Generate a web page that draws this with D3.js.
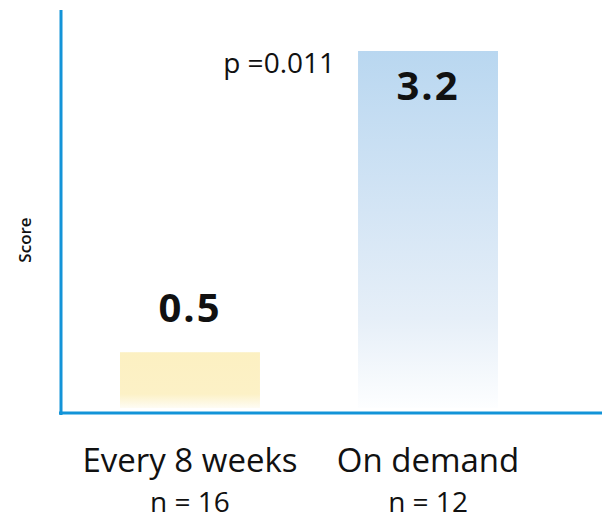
<!DOCTYPE html>
<html>
<head>
<meta charset="utf-8">
<script src="https://cdnjs.cloudflare.com/ajax/libs/d3/7.8.5/d3.min.js"></script>
<style>
  body { margin: 0; background: #fff; }
  svg text { font-family: "Open Sans", sans-serif; fill: #111; }
</style>
</head>
<body>
<svg id="chart" width="602" height="519"></svg>
<script>
var categories = ["Every 8 weeks", "On demand"];
var sampleSizes = ["n = 16", "n = 12"];
var scores = [0.5, 3.2];
var pLabel = "p =0.011";
var yLabel = "Score";

var svg = d3.select("#chart");

var x = d3.scaleBand()
	.domain(categories)
	.range([120, 498])
	.paddingInner(0.412)
	.paddingOuter(0);

var y = d3.scaleLinear()
	.domain([0, 3.2])
	.range([408, 51]);

// gradients for the two bars
var defs = svg.append("defs");
var gYellow = defs.append("linearGradient")
	.attr("id", "grad0")
	.attr("x1", 0).attr("y1", 0).attr("x2", 0).attr("y2", 1);
gYellow.append("stop").attr("offset", "0%").attr("stop-color", "#fcf0c2");
gYellow.append("stop").attr("offset", "75%").attr("stop-color", "#fcf1c6");
gYellow.append("stop").attr("offset", "100%").attr("stop-color", "#fefcf4");

var gBlue = defs.append("linearGradient")
	.attr("id", "grad1")
	.attr("x1", 0).attr("y1", 0).attr("x2", 0).attr("y2", 1);
gBlue.append("stop").attr("offset", "0%").attr("stop-color", "#b9d7f0");
gBlue.append("stop").attr("offset", "45%").attr("stop-color", "#d4e5f5");
gBlue.append("stop").attr("offset", "75%").attr("stop-color", "#e6eff8");
gBlue.append("stop").attr("offset", "100%").attr("stop-color", "#fdfeff");

// bars
svg.selectAll("rect.bar")
	.data(scores)
	.enter().append("rect")
	.attr("class", "bar")
	.attr("x", function(d, i) {return x(categories[i])})
	.attr("y", function(d) {return y(d)})
	.attr("width", x.bandwidth())
	.attr("height", function(d) {return y(0) - y(d)})
	.style("fill", function(d, i) {return "url(#grad" + i + ")"});

// value labels (inside the tall bar, above the short one)
svg.selectAll("text.value")
	.data(scores)
	.enter().append("text")
	.attr("class", "value")
	.attr("x", function(d, i) {return x(categories[i]) + x.bandwidth() / 2})
	.attr("y", function(d, i) {return i === 1 ? y(d) + 49 : y(d) - 30})
	.attr("text-anchor", "middle")
	.style("font-size", "40px")
	.style("font-weight", "bold")
	.style("letter-spacing", "2px")
	.text(function(d) {return d.toFixed(1)});

// p value
svg.append("text")
	.attr("x", x(categories[1]) - 23)
	.attr("y", 73)
	.attr("text-anchor", "end")
	.style("font-size", "28px")
	.text(pLabel);

// axes lines
svg.append("line")
	.attr("x1", 61).attr("x2", 61)
	.attr("y1", 10).attr("y2", 415)
	.style("stroke", "#1394d8")
	.style("stroke-width", 3);
svg.append("line")
	.attr("x1", 59).attr("x2", 602)
	.attr("y1", 413).attr("y2", 413)
	.style("stroke", "#1394d8")
	.style("stroke-width", 3);

// category labels
svg.selectAll("text.cat")
	.data(categories)
	.enter().append("text")
	.attr("class", "cat")
	.attr("x", function(d) {return x(d) + x.bandwidth() / 2})
	.attr("y", 472)
	.attr("text-anchor", "middle")
	.style("font-size", "33px")
	.text(function(d) {return d});

svg.selectAll("text.n")
	.data(sampleSizes)
	.enter().append("text")
	.attr("class", "n")
	.attr("x", function(d, i) {return x(categories[i]) + x.bandwidth() / 2})
	.attr("y", 512)
	.attr("text-anchor", "middle")
	.style("font-size", "28px")
	.text(function(d) {return d});

// y label
svg.append("text")
	.attr("transform", "translate(31,240) rotate(-90)")
	.attr("text-anchor", "middle")
	.style("font-size", "17px")
	.style("font-weight", "600")
	.text(yLabel);
</script>
</body>
</html>
